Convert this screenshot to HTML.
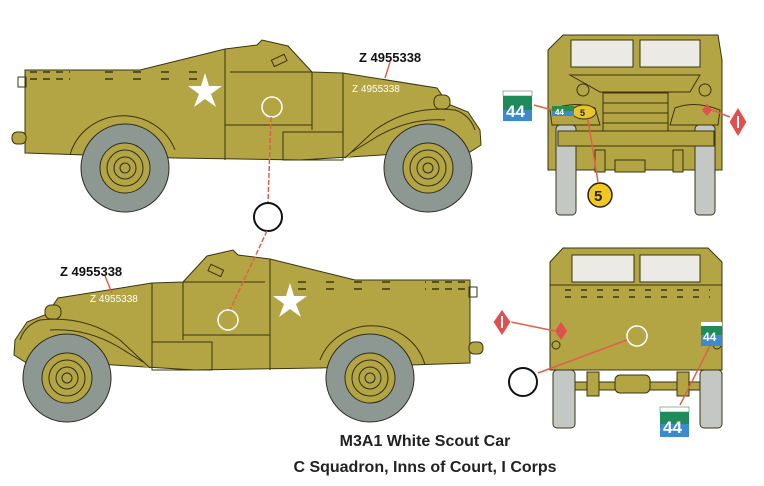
<!DOCTYPE html>
<html><head><meta charset="utf-8"><style>
html,body{margin:0;padding:0;background:#fff;}
svg{display:block}
text{font-family:"Liberation Sans",sans-serif;}
</style></head><body>
<svg width="764" height="486" viewBox="0 0 764 486" xmlns="http://www.w3.org/2000/svg">
<defs>
<g id="side">
  <!-- body -->
  <path d="M25,70 L140,70 L225,49 L257,45 L262,40 L288,46 L312,72 L343,73 L437,88 L448,104 L468,112 L480,130 L481,145 L470,152 L430,152 L300,160 L175,158 L25,153 Z" fill="#b3a444" stroke="#3a3510" stroke-width="1"/>
  <rect x="18" y="77" width="8" height="10" fill="none" stroke="#3a3510"/>
  <rect x="12" y="132" width="14" height="12" rx="5" fill="#b3a444" stroke="#3a3510"/>
  <line x1="225" y1="49" x2="225" y2="160" stroke="#3a3510"/>
  <line x1="312" y1="72" x2="312" y2="130" stroke="#3a3510"/>
  <line x1="343" y1="73" x2="343" y2="160" stroke="#3a3510"/>
  <line x1="225" y1="125" x2="312" y2="125" stroke="#3a3510"/>
  <rect x="283" y="132" width="60" height="28" fill="none" stroke="#3a3510"/>
  <line x1="230" y1="72" x2="312" y2="72" stroke="#3a3510"/>
  <rect x="272" y="57" width="14" height="7" transform="rotate(-25 279 60)" fill="none" stroke="#3a3510"/>
  <g stroke="#3a3510" stroke-width="1.5">
   <line x1="30" y1="72" x2="70" y2="72" stroke-dasharray="7 6"/><line x1="30" y1="79" x2="70" y2="79" stroke-dasharray="7 6"/>
   <line x1="105" y1="72" x2="215" y2="72" stroke-dasharray="8 20"/><line x1="105" y1="79" x2="215" y2="79" stroke-dasharray="8 20"/>
  </g>
  <!-- fenders -->
  <path d="M70,155 A55,52 0 0 1 175,150" fill="none" stroke="#3a3510"/>
  <path d="M345,158 L375,130 Q410,105 455,110 Q470,115 475,130" fill="#b3a444" stroke="#3a3510"/>
  <path d="M352,152 L378,136 Q410,118 445,120" fill="none" stroke="#3a3510"/>
  <rect x="434" y="95" width="16" height="14" rx="6" fill="#b3a444" stroke="#3a3510"/>
  <!-- wheels -->
  <g stroke="#2d2d20">
   <circle cx="125" cy="168" r="44" fill="#8d9892"/>
   <circle cx="125" cy="168" r="25" fill="#b3a444"/>
   <circle cx="125" cy="168" r="18" fill="none"/><circle cx="125" cy="168" r="11" fill="none"/><circle cx="125" cy="168" r="5" fill="none"/>
   <circle cx="428" cy="168" r="44" fill="#8d9892"/>
   <circle cx="428" cy="168" r="25" fill="#b3a444"/>
   <circle cx="428" cy="168" r="18" fill="none"/><circle cx="428" cy="168" r="11" fill="none"/><circle cx="428" cy="168" r="5" fill="none"/>
  </g>
  <polygon points="205,73 209,86 222,86 211,94 216,107 205,99 194,107 199,94 188,86 201,86" fill="#fff"/>
</g>
</defs>

<use href="#side"/>
<g transform="translate(495,210) scale(-1,1)"><use href="#side"/></g>

<!-- top view markings -->
<circle cx="272" cy="107" r="10" fill="none" stroke="#fff" stroke-width="1.5"/>
<line x1="271" y1="117" x2="268" y2="202" stroke="#e0604a" stroke-width="1.5" stroke-dasharray="5 2"/>
<circle cx="268" cy="217" r="14" fill="#fff" stroke="#111" stroke-width="2"/>
<line x1="267" y1="231" x2="230" y2="310" stroke="#e0604a" stroke-width="1.5" stroke-dasharray="5 2"/>
<circle cx="228" cy="320" r="10" fill="none" stroke="#fff" stroke-width="1.5"/>
<text x="352" y="92" font-size="10" fill="#fff">Z 4955338</text>
<line x1="385" y1="78" x2="390" y2="62" stroke="#e0604a" stroke-width="1.5"/>
<text x="359" y="62" font-size="13" font-weight="bold" fill="#111">Z 4955338</text>
<text x="90" y="302" font-size="10" fill="#fff">Z 4955338</text>
<line x1="112" y1="293" x2="105" y2="276" stroke="#e0604a" stroke-width="1.5"/>
<text x="60" y="276" font-size="13" font-weight="bold" fill="#111">Z 4955338</text>

<!-- front view -->
<g stroke="#3a3510" stroke-width="1">
 <path d="M563,35 L718,35 L722,60 L722,170 L548,170 L548,50 Z" fill="#b3a444"/>
 <rect x="571" y="40" width="62" height="27" fill="#eceae4"/>
 <rect x="640" y="40" width="60" height="27" fill="#eceae4"/>
 <path d="M570,75 L700,75 L690,92 L600,92 Z" fill="#b3a444"/>
 <rect x="603" y="93" width="65" height="40" fill="#b3a444"/>
 <line x1="603" y1="103" x2="668" y2="103"/><line x1="603" y1="113" x2="668" y2="113"/><line x1="603" y1="123" x2="668" y2="123"/>
 <path d="M550,110 Q575,100 595,108 L600,125 L552,125 Z" fill="#b3a444"/>
 <path d="M720,110 Q695,100 675,108 L670,125 L718,125 Z" fill="#b3a444"/>
 <rect x="556" y="125" width="20" height="90" rx="4" fill="#c4c8c4"/>
 <rect x="695" y="125" width="20" height="90" rx="4" fill="#c4c8c4"/>
 <rect x="558" y="131" width="156" height="15" fill="#b3a444"/>
 <rect x="595" y="150" width="10" height="22" fill="#b3a444"/>
 <rect x="673" y="150" width="10" height="22" fill="#b3a444"/>
 <rect x="615" y="160" width="30" height="12" fill="#b3a444"/>
 <circle cx="583" cy="90" r="6" fill="#b3a444"/><circle cx="705" cy="90" r="6" fill="#b3a444"/>
</g>
<ellipse cx="584" cy="112" rx="12" ry="7" fill="#e9c52c" stroke="#3a3510"/>
<text x="580" y="116" font-size="9" font-weight="bold" fill="#222">5</text>
<rect x="552" y="106" width="22" height="10" fill="#3c8ad0"/><rect x="552" y="106" width="22" height="5" fill="#2a8a50"/>
<text x="555" y="115" font-size="8" font-weight="bold" fill="#fff">44</text>
<line x1="534" y1="105" x2="552" y2="110" stroke="#e0604a" stroke-width="1.5"/>
<rect x="503" y="91" width="29" height="30" fill="#3c8ad0"/><rect x="503" y="91" width="29" height="5" fill="#fff" stroke="#2a6a40" stroke-width="0.5"/><rect x="503" y="96" width="29" height="14" fill="#1f8a5a"/>
<text x="506" y="117" font-size="17" font-weight="bold" fill="#fff">44</text>
<line x1="588" y1="120" x2="598" y2="182" stroke="#e0604a" stroke-width="1.5"/>
<circle cx="600" cy="195" r="12" fill="#f2c820" stroke="#222" stroke-width="1.5"/>
<text x="594" y="201" font-size="15" font-weight="bold" fill="#222">5</text>
<path d="M707,104 L712,110 L707,116 L702,110 Z" fill="#e05050"/>
<line x1="712" y1="110" x2="730" y2="117" stroke="#e0604a" stroke-width="1.5"/>
<path d="M738,107 L747,122 L738,137 L729,122 Z" fill="#e05050" stroke="#fff" stroke-width="1"/>
<line x1="738" y1="116" x2="738" y2="128" stroke="#fff" stroke-width="2"/>

<!-- rear view -->
<g stroke="#3a3510" stroke-width="1">
 <path d="M563,248 L708,248 L722,262 L722,370 L550,370 L550,262 Z" fill="#b3a444"/>
 <rect x="572" y="255" width="62" height="27" fill="#eceae4"/>
 <rect x="640" y="255" width="60" height="27" fill="#eceae4"/>
 <line x1="550" y1="285" x2="722" y2="285"/>
 <rect x="553" y="370" width="22" height="58" rx="4" fill="#c4c8c4"/>
 <rect x="700" y="370" width="22" height="58" rx="4" fill="#c4c8c4"/>
 <rect x="575" y="382" width="125" height="8" fill="#b3a444"/>
 <rect x="615" y="375" width="35" height="18" rx="5" fill="#b3a444"/>
 <rect x="587" y="372" width="12" height="24" fill="#b3a444"/><rect x="677" y="372" width="12" height="24" fill="#b3a444"/>
 <circle cx="556" cy="345" r="4" fill="#b3a444"/><circle cx="717" cy="345" r="4" fill="#b3a444"/>
</g>
<g stroke="#3a3510" stroke-width="1.5">
 <line x1="565" y1="290" x2="710" y2="290" stroke-dasharray="6 10"/>
 <line x1="565" y1="297" x2="710" y2="297" stroke-dasharray="6 10"/>
</g>
<circle cx="637" cy="336" r="10" fill="none" stroke="#fff" stroke-width="1.5"/>
<line x1="627" y1="340" x2="538" y2="373" stroke="#e0604a" stroke-width="1.5"/>
<circle cx="523" cy="382" r="14" fill="#fff" stroke="#111" stroke-width="2"/>
<path d="M561,322 L567,331 L561,340 L555,331 Z" fill="#e05050"/>
<line x1="511" y1="322" x2="555" y2="331" stroke="#e0604a" stroke-width="1.5"/>
<path d="M502,309 L511,322 L502,336 L493,322 Z" fill="#e05050" stroke="#fff"/>
<line x1="502" y1="316" x2="502" y2="328" stroke="#fff" stroke-width="2"/>
<rect x="701" y="322" width="21" height="24" fill="#3c8ad0"/><rect x="701" y="322" width="21" height="4" fill="#fff"/><rect x="701" y="326" width="21" height="9" fill="#1f8a5a"/>
<text x="703" y="341" font-size="12" font-weight="bold" fill="#fff">44</text>
<line x1="710" y1="346" x2="680" y2="405" stroke="#e0604a" stroke-width="1.5"/>
<rect x="660" y="407" width="29" height="30" fill="#3c8ad0"/><rect x="660" y="407" width="29" height="5" fill="#fff" stroke="#2a6a40" stroke-width="0.5"/><rect x="660" y="412" width="29" height="12" fill="#1f8a5a"/>
<text x="663" y="433" font-size="17" font-weight="bold" fill="#fff">44</text>

<text x="425" y="446" font-size="16" font-weight="bold" fill="#222" text-anchor="middle">M3A1 White Scout Car</text>
<text x="425" y="472" font-size="16" font-weight="bold" fill="#222" text-anchor="middle">C Squadron, Inns of Court, I Corps</text>
</svg>
</body></html>
